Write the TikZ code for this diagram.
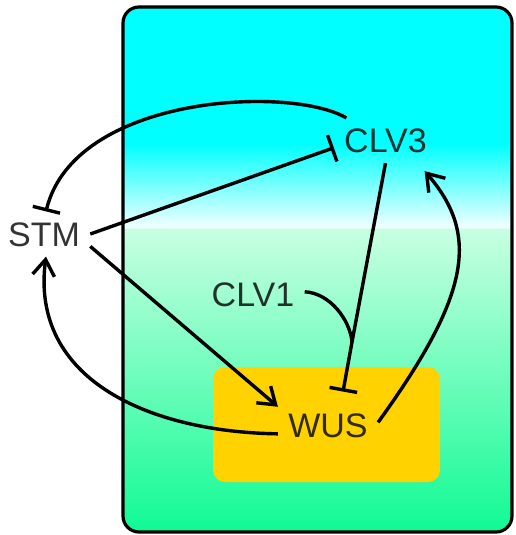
\documentclass[tikz,border=0pt]{standalone}
\usepackage{fontspec}
\newfontfamily\genefont{Liberation Sans}
\usetikzlibrary{arrows.meta, calc, backgrounds}
\definecolor{mericyan}{HTML}{00FFFF}
\definecolor{meriwhite}{HTML}{F2FFFF}
\definecolor{merimint}{HTML}{C8FFE2}
\definecolor{merigreen}{HTML}{10FA94}
\definecolor{meriyellow}{HTML}{FFD200}
\pgfdeclareverticalshading{meristem}{100bp}{color(0bp)=(merigreen); color(25bp)=(merigreen); color(53.9bp)=(merimint); color(54bp)=(meriwhite); color(62bp)=(mericyan); color(100bp)=(mericyan)}

\begin{document}
\begin{tikzpicture}[
    x=0.5pt, y=-0.5pt,
    gene/.style={font=\genefont\fontsize{17}{20}\selectfont, text=black, text opacity=0.8, inner sep=5pt, text height=12.2pt, text depth=0pt},
    arrow/.style={-{Straight Barb[length=8pt, width=11pt]}, line width=1.7pt},
    repress/.style={-{Bar[width=14pt]}, line width=1.7pt},
    tissue/.style={draw=black, line width=1.6pt, rounded corners=8pt, shading=meristem},
    zone/.style={fill=meriyellow, rounded corners=6pt}
]
\useasboundingbox (0,0) rectangle (515,535);

% Nodes
\node[gene] (STM) at (44,234) {STM};
\node[gene] (CLV3) at (385.5,140.5) {CLV3};
\node[gene] (CLV1) at (253,294.5) {CLV1};
\node[gene] (WUS) at (328,425) {WUS};
\coordinate (junc) at (352,342);

% Meristem and organizing centre
\begin{scope}[on background layer]
    \draw[tissue] (123,7) rectangle (512,532);
    \fill[zone] (213,367) rectangle (440,482);
\end{scope}

% Arrows
\draw[repress] (CLV3.150) .. controls (290,85) and (75,95) .. (STM.85);
\draw[repress] (STM.east) -- (CLV3.188);
\draw[arrow] (STM.-15) -- (WUS.160);
\draw[arrow] (WUS.190) .. controls (150,432) and (30,380) .. (STM.-85);
\draw[repress, shorten >=5.5pt] (CLV3.south) -- (junc) -- (WUS.60);
\draw[line width=1.7pt] (CLV1.3) .. controls (330,293) and (350,320) .. (junc);
\draw[arrow] (WUS.3) .. controls (470,295) and (480,235) .. ([yshift=-4pt]CLV3.-30);

\end{tikzpicture}
\end{document}
